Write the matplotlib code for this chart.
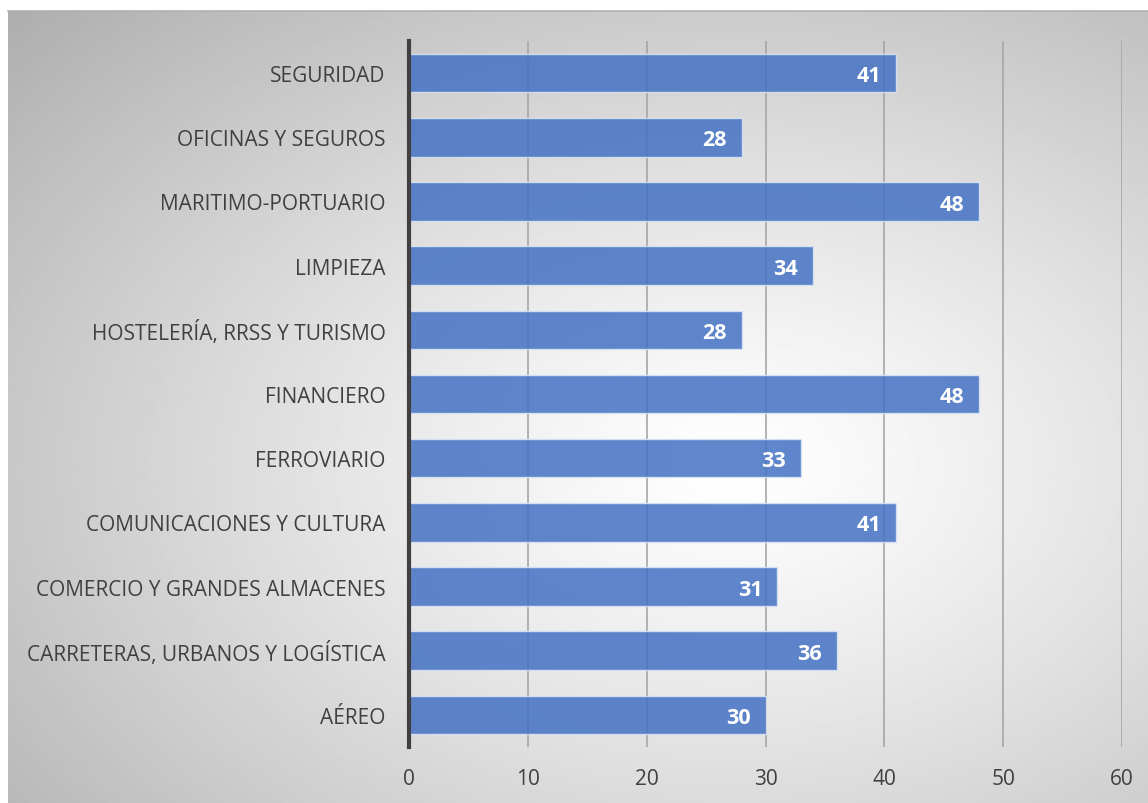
import numpy as np
import matplotlib.pyplot as plt

categories = [
    "SEGURIDAD",
    "OFICINAS Y SEGUROS",
    "MARITIMO-PORTUARIO",
    "LIMPIEZA",
    "HOSTELERÍA, RRSS Y TURISMO",
    "FINANCIERO",
    "FERROVIARIO",
    "COMUNICACIONES Y CULTURA",
    "COMERCIO Y GRANDES ALMACENES",
    "CARRETERAS, URBANOS Y LOGÍSTICA",
    "AÉREO",
]
values = [41, 28, 48, 34, 28, 48, 33, 41, 31, 36, 30]
x_ticks = [0, 10, 20, 30, 40, 50, 60]

W, H = 1148, 804
fig = plt.figure(figsize=(W / 100, H / 100), dpi=100)
fig.patch.set_facecolor("white")

# radial gradient background of the chart area
bg = fig.add_axes([8 / W, 0, 1 - 8 / W, 1 - 12 / H])
yy, xx = np.mgrid[0:400, 0:570]
cx, cy = 360, 230
r = np.sqrt(((xx - cx) / 620) ** 2 + ((yy - cy) / 420) ** 2)
shade = 1.0 - 0.32 * np.clip(r / 0.8, 0, 1) ** 1.2
bg.imshow(shade, cmap="gray", vmin=0, vmax=1, aspect="auto", extent=[0, 1, 0, 1])
bg.set_xticks([])
bg.set_yticks([])
for s in ["left", "right", "bottom"]:
    bg.spines[s].set_visible(False)
bg.spines["top"].set_color("#b0b0b0")
bg.spines["top"].set_linewidth(1.2)

ax = fig.add_axes([409 / W, 1 - 748 / H, (1122 - 409) / W, (748 - 42) / H])
ax.patch.set_alpha(0)
y = np.arange(len(categories))
ax.barh(y, values, height=0.6, color="#4472C4", alpha=0.85,
        edgecolor="#dce6f5", linewidth=1.0, zorder=3)
ax.set_ylim(len(categories) - 0.5, -0.5)
ax.set_xlim(0, 60)
ax.set_xticks(x_ticks)
ax.set_yticks(y)
ax.set_yticklabels(categories)
ax.grid(axis="x", color="#a6a6a6", linewidth=1.2, zorder=1)
ax.tick_params(axis="both", length=0, labelsize=15, labelcolor="#404040")
ax.tick_params(axis="x", pad=15)
ax.tick_params(axis="y", pad=17)
for lab in ax.get_xticklabels() + ax.get_yticklabels():
    lab.set_fontfamily("Open Sans")
for s in ["top", "right", "bottom"]:
    ax.spines[s].set_visible(False)
ax.spines["left"].set_color("#404040")
ax.spines["left"].set_linewidth(3)
ax.spines["left"].set_zorder(4)

for yi, v in zip(y, values):
    ax.text(v - 1.25, yi + 0.04, str(v), ha="right", va="center", color="white",
            fontsize=15.5, fontweight="bold", fontfamily="Open Sans", zorder=5)

fig.savefig("out.png", dpi=100)
